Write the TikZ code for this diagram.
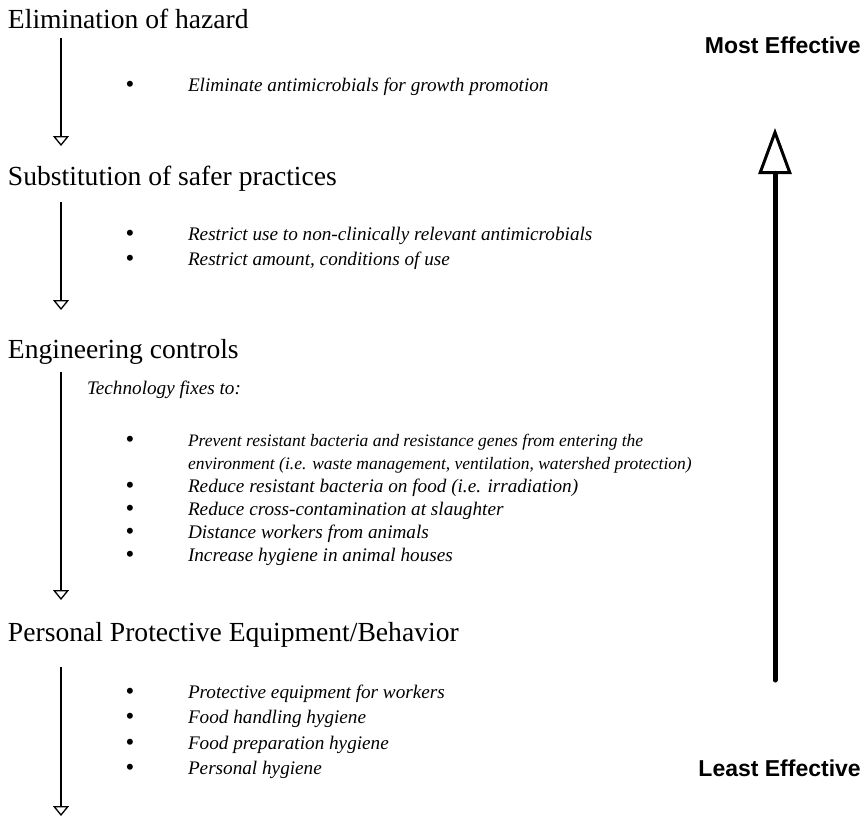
\documentclass[tikz,border=0pt]{standalone}
\usepackage{fontspec}
\setmainfont{Liberation Serif}
\newfontfamily\labelfont{Liberation Sans}
\usetikzlibrary{arrows.meta}

\begin{document}
\begin{tikzpicture}[x=1pt,y=-1pt]
  \tikzset{HeadStyle/.style = {
    anchor        = base west,
    inner sep     = 0pt,
    outer sep     = 0pt,
    text          = black,
    font          = \fontsize{27.6}{32}\selectfont
    }
  }
  \tikzset{ItemStyle/.style = {
    anchor        = base west,
    align         = left,
    inner sep     = 0pt,
    outer sep     = 0pt,
    text          = black,
    font          = \fontsize{19.2}{23}\selectfont\itshape
    }
  }
  \tikzset{BulletStyle/.style = {
    anchor        = base,
    inner sep     = 0pt,
    font          = \fontsize{25}{23}\selectfont
    }
  }
  \tikzset{LabelStyle/.style = {
    anchor        = base east,
    inner sep     = 0pt,
    font          = \labelfont\bfseries\fontsize{23}{27}\selectfont
    }
  }
  \tikzset{StepArrowStyle/.style = {
    draw          = black,
    line width    = 2.8pt,
    -{Triangle[open, width=16pt, length=10pt, line width=1.3pt]}
    }
  }
  \tikzset{ScaleArrowStyle/.style = {
    draw          = black,
    line width    = 5pt,
    line cap      = round,
    -{Triangle[open, width=33pt, length=46pt, line width=3pt]}
    }
  }

  \useasboundingbox (0,0) rectangle (868,820);

  \node[HeadStyle](H1) at (8, 28) {Elimination of hazard};
  \node[HeadStyle](H2) at (8, 185) {Substitution of safer practices};
  \node[HeadStyle](H3) at (8, 358) {Engineering controls};
  \node[HeadStyle](H4) at (8, 641) {Personal Protective Equipment/Behavior};

  \node[BulletStyle](bE1) at (130, 92) {\textbullet};
  \node[ItemStyle](E1) at (188, 91) {Eliminate antimicrobials for growth promotion};

  \node[BulletStyle](bS1) at (130, 241) {\textbullet};
  \node[ItemStyle](S1) at (188, 240) {Restrict use to non-clinically relevant antimicrobials};
  \node[BulletStyle](bS2) at (130, 266) {\textbullet};
  \node[ItemStyle](S2) at (188, 265) {Restrict amount, conditions of use};

  \node[ItemStyle](T0) at (87, 394) {Technology fixes to:};
  \node[BulletStyle](bT1) at (130, 447) {\textbullet};
  \node[ItemStyle, font=\fontsize{17.5}{23}\selectfont\itshape](T1) at (188, 469) {Prevent resistant bacteria and resistance genes from entering the\\environment (i.e. waste management, ventilation, watershed protection)};
  \node[BulletStyle](bT2) at (130, 493) {\textbullet};
  \node[ItemStyle](T2) at (188, 492) {Reduce resistant bacteria on food (i.e. irradiation)};
  \node[BulletStyle](bT3) at (130, 516) {\textbullet};
  \node[ItemStyle](T3) at (188, 515) {Reduce cross-contamination at slaughter};
  \node[BulletStyle](bT4) at (130, 539) {\textbullet};
  \node[ItemStyle](T4) at (188, 538) {Distance workers from animals};
  \node[BulletStyle](bT5) at (130, 562) {\textbullet};
  \node[ItemStyle](T5) at (188, 561) {Increase hygiene in animal houses};

  \node[BulletStyle](bP1) at (130, 699) {\textbullet};
  \node[ItemStyle](P1) at (188, 698) {Protective equipment for workers};
  \node[BulletStyle](bP2) at (130, 724) {\textbullet};
  \node[ItemStyle](P2) at (188, 723) {Food handling hygiene};
  \node[BulletStyle](bP3) at (130, 750) {\textbullet};
  \node[ItemStyle](P3) at (188, 749) {Food preparation hygiene};
  \node[BulletStyle](bP4) at (130, 775) {\textbullet};
  \node[ItemStyle](P4) at (188, 774) {Personal hygiene};

  \node[LabelStyle](most) at (861, 53) {Most Effective};
  \node[LabelStyle](least) at (861, 776) {Least Effective};

  \coordinate (A1s) at (61, 38);
  \coordinate (A1e) at (61, 146);
  \coordinate (A2s) at (61, 202);
  \coordinate (A2e) at (61, 310);
  \coordinate (A3s) at (61, 372);
  \coordinate (A3e) at (61, 600);
  \coordinate (A4s) at (61, 667);
  \coordinate (A4e) at (61, 816);
  \coordinate (Ls) at (775, 680);
  \coordinate (Le) at (775, 128);

  \draw[StepArrowStyle](A1s) -- (A1e);
  \draw[StepArrowStyle](A2s) -- (A2e);
  \draw[StepArrowStyle](A3s) -- (A3e);
  \draw[StepArrowStyle](A4s) -- (A4e);
  \draw[ScaleArrowStyle](Ls) -- (Le);

\end{tikzpicture}
\end{document}
